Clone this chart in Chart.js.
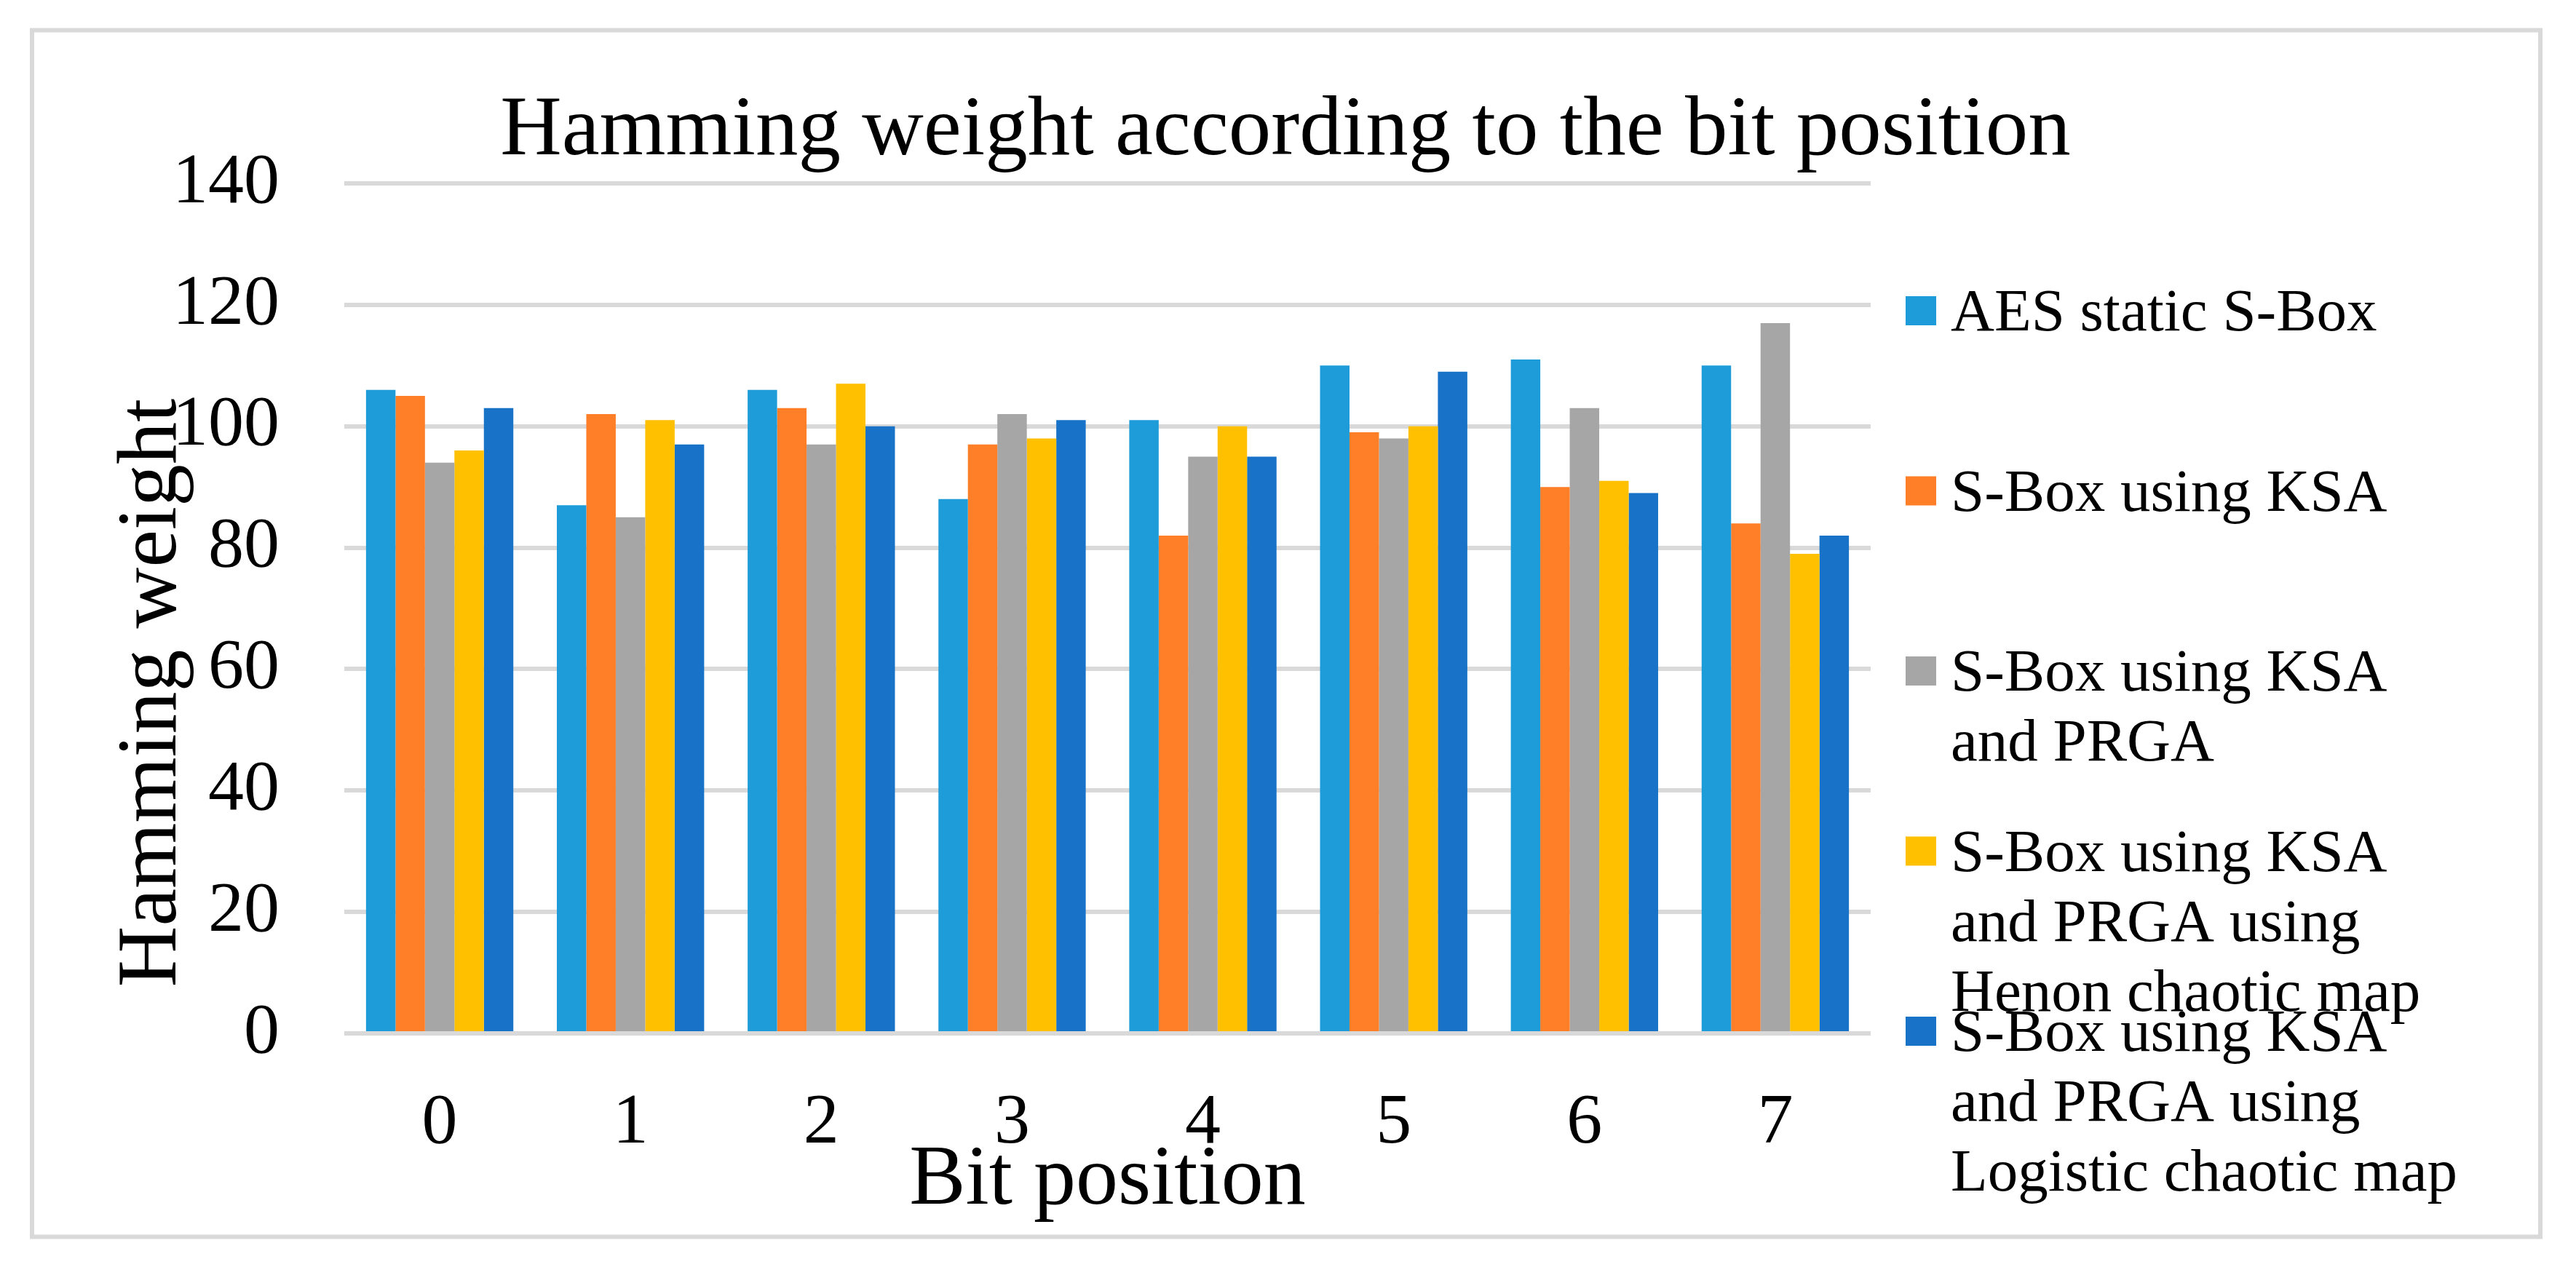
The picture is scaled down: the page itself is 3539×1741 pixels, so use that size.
<!DOCTYPE html>
<html>
<head>
<meta charset="utf-8">
<title>Hamming weight according to the bit position</title>
<script src="https://cdn.jsdelivr.net/npm/chart.js@4.4.1/dist/chart.umd.min.js"></script>
<style>
  html, body { margin: 0; padding: 0; background: #fff; }
  #chart { display: block; }
</style>
</head>
<body>
<canvas id="chart" width="3539" height="1741"></canvas>
<script>
const bitPositions = ['0', '1', '2', '3', '4', '5', '6', '7'];
const seriesNames = [
  'AES static S-Box',
  'S-Box using KSA',
  'S-Box using KSA and PRGA',
  'S-Box using KSA and PRGA using Henon chaotic map',
  'S-Box using KSA and PRGA using Logistic chaotic map'
];
const seriesColors = ['#1e9cd9', '#fe7f27', '#a6a6a6', '#ffc000', '#1873c8'];
const aesStatic   = [106, 87, 106, 88, 101, 110, 111, 110];
const sboxKsa     = [105, 102, 103, 97, 82, 99, 90, 84];
const sboxKsaPrga = [94, 85, 97, 102, 95, 98, 103, 117];
const sboxHenon   = [96, 101, 107, 98, 100, 100, 91, 79];
const sboxLogistic = [103, 97, 100, 101, 95, 109, 89, 82];
const yMin = 0, yMax = 140, yStep = 20;
const chartTitle = 'Hamming weight according to the bit position';
const xTitle = 'Bit position';
const yTitle = 'Hamming weight';

const FONT = "'Liberation Serif', 'Times New Roman', serif";

function wrapText(ctx, text, maxWidth) {
  const words = text.split(' ');
  const lines = [];
  let line = '';
  words.forEach(w => {
    const test = line ? line + ' ' + w : w;
    if (line && ctx.measureText(test).width > maxWidth) { lines.push(line); line = w; }
    else line = test;
  });
  if (line) lines.push(line);
  return lines;
}

// frame, title, rotated y title and Excel-like legend
const decorPlugin = {
  id: 'decor',
  beforeDraw(chart) {
    const ctx = chart.ctx;
    ctx.save();
    ctx.fillStyle = '#fff';
    ctx.fillRect(0, 0, chart.width, chart.height);
    ctx.strokeStyle = '#d9d9d9';
    ctx.lineWidth = 6;
    ctx.strokeRect(44, 41.5, 3446, 1658);
    ctx.restore();
  },
  afterDraw(chart) {
    const ctx = chart.ctx;
    ctx.save();
    ctx.fillStyle = '#000';
    ctx.textBaseline = 'alphabetic';

    ctx.font = `117px ${FONT}`;
    ctx.textAlign = 'center';
    ctx.fillText(chartTitle, 1766, 212);

    ctx.save();
    ctx.font = `116px ${FONT}`;
    ctx.translate(241, 952);
    ctx.rotate(-Math.PI / 2);
    ctx.fillText(yTitle, 0, 0);
    ctx.restore();

    ctx.font = `83px ${FONT}`;
    ctx.textAlign = 'left';
    chart.data.datasets.forEach((ds, i) => {
      const cy = 427 + i * 247.5;
      ctx.fillStyle = ds.backgroundColor;
      ctx.fillRect(2618, cy - 20, 42, 40);
      ctx.fillStyle = '#000';
      wrapText(ctx, ds.label, 725).forEach((ln, j) => {
        ctx.fillText(ln, 2680, cy + 27 + j * 96);
      });
    });
    ctx.restore();
  }
};

const seriesValues = [aesStatic, sboxKsa, sboxKsaPrga, sboxHenon, sboxLogistic];

new Chart(document.getElementById('chart'), {
  type: 'bar',
  data: {
    labels: bitPositions,
    datasets: seriesValues.map((vals, i) => ({
      label: seriesNames[i],
      data: vals,
      backgroundColor: seriesColors[i],
      borderWidth: 0,
      categoryPercentage: 0.772,
      barPercentage: 1
    }))
  },
  options: {
    responsive: false,
    devicePixelRatio: 1,
    animation: false,
    layout: { padding: { left: 50, right: 969, top: 252, bottom: 48 } },
    plugins: {
      legend: { display: false },
      title: { display: false },
      tooltip: { enabled: false }
    },
    scales: {
      x: {
        grid: { display: false },
        border: { display: false },
        ticks: { color: '#000', font: { family: FONT, size: 98 }, padding: 57, maxRotation: 0 },
        title: { display: true, text: xTitle, color: '#000', font: { family: FONT, size: 116, lineHeight: 1.2 }, padding: 0 },
        afterFit(scale) { scale.height = 273; }
      },
      y: {
        min: yMin,
        max: yMax,
        ticks: { stepSize: yStep, color: '#000', font: { family: FONT, size: 98 }, padding: 89 },
        grid: { color: '#d9d9d9', lineWidth: 6, drawTicks: false },
        border: { display: false },
        afterFit(scale) { scale.width = 423; }
      }
    }
  },
  plugins: [decorPlugin]
});
</script>
</body>
</html>
